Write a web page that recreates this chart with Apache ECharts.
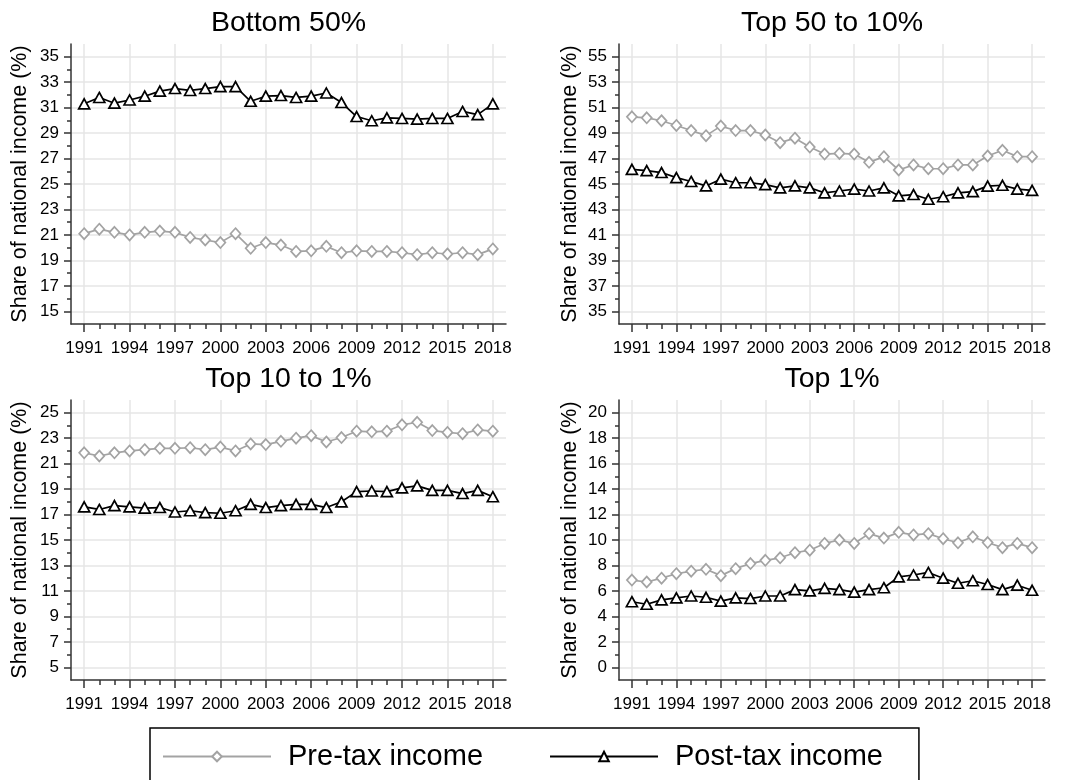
<!DOCTYPE html>
<html>
<head>
<meta charset="UTF-8">
<title>Income shares, pre-tax and post-tax</title>
<style>
  html, body { margin: 0; padding: 0; background: #fff; }
  #chart { width: 1071px; height: 780px; }
</style>
<script src="https://cdn.jsdelivr.net/npm/echarts@6/dist/echarts.min.js"></script>
</head>
<body>
<div id="chart"></div>
<script>
// years and tick positions
const years = [1991, 1992, 1993, 1994, 1995, 1996, 1997, 1998, 1999, 2000,
  2001, 2002, 2003, 2004, 2005, 2006, 2007, 2008, 2009, 2010,
  2011, 2012, 2013, 2014, 2015, 2016, 2017, 2018];
const yearLabels = [1991, 1994, 1997, 2000, 2003, 2006, 2009, 2012, 2015, 2018];

// Bottom 50%
const b50Pre = [21.1, 21.45, 21.2, 21.0, 21.2, 21.3, 21.2, 20.8, 20.6, 20.4,
  21.1, 19.95, 20.4, 20.2, 19.7, 19.75, 20.1, 19.6, 19.75, 19.7,
  19.7, 19.6, 19.45, 19.6, 19.5, 19.6, 19.45, 19.9];
const b50Post = [31.3, 31.8, 31.35, 31.6, 31.9, 32.3, 32.5, 32.35, 32.5, 32.65,
  32.65, 31.5, 31.9, 31.95, 31.8, 31.9, 32.15, 31.4, 30.3, 29.97,
  30.2, 30.15, 30.1, 30.15, 30.15, 30.7, 30.45, 31.3];

// Top 50 to 10%
const t50Pre = [50.28, 50.2, 49.97, 49.6, 49.2, 48.8, 49.55, 49.2, 49.2, 48.85,
  48.25, 48.6, 47.9, 47.35, 47.4, 47.35, 46.7, 47.15, 46.1, 46.5,
  46.2, 46.2, 46.5, 46.5, 47.2, 47.65, 47.15, 47.15];
const t50Post = [46.15, 46.05, 45.9, 45.5, 45.2, 44.85, 45.38, 45.1, 45.1, 44.95,
  44.7, 44.85, 44.7, 44.3, 44.45, 44.6, 44.45, 44.7, 44.07, 44.17,
  43.8, 44.0, 44.3, 44.4, 44.83, 44.9, 44.6, 44.5];

// Top 10 to 1%
const t10Pre = [21.85, 21.6, 21.85, 22.0, 22.1, 22.2, 22.2, 22.25, 22.1, 22.3,
  22.0, 22.55, 22.5, 22.75, 23.0, 23.2, 22.7, 23.05, 23.55, 23.5,
  23.55, 24.05, 24.25, 23.6, 23.45, 23.35, 23.65, 23.55];
const t10Post = [17.6, 17.4, 17.7, 17.6, 17.5, 17.55, 17.2, 17.3, 17.15, 17.1,
  17.3, 17.8, 17.55, 17.7, 17.8, 17.8, 17.55, 18.0, 18.8, 18.85,
  18.8, 19.1, 19.25, 18.9, 18.9, 18.65, 18.9, 18.4];

// Top 1%
const t1Pre = [6.85, 6.7, 7.0, 7.35, 7.55, 7.7, 7.2, 7.75, 8.15, 8.4,
  8.6, 9.0, 9.2, 9.73, 10.0, 9.73, 10.5, 10.15, 10.6, 10.4,
  10.5, 10.1, 9.78, 10.25, 9.8, 9.4, 9.73, 9.4];
const t1Post = [5.15, 4.95, 5.3, 5.45, 5.6, 5.5, 5.2, 5.45, 5.4, 5.6,
  5.6, 6.1, 6.0, 6.2, 6.1, 5.9, 6.1, 6.25, 7.1, 7.25,
  7.45, 7.0, 6.6, 6.8, 6.5, 6.1, 6.45, 6.05];

// y tick labels and minor ticks
const yLabB50 = [15, 17, 19, 21, 23, 25, 27, 29, 31, 33, 35];
const yMinB50 = [16, 18, 20, 22, 24, 26, 28, 30, 32, 34];
const yLabT50 = [35, 37, 39, 41, 43, 45, 47, 49, 51, 53, 55];
const yMinT50 = [36, 38, 40, 42, 44, 46, 48, 50, 52, 54];
const yLabT10 = [5, 7, 9, 11, 13, 15, 17, 19, 21, 23, 25];
const yMinT10 = [6, 8, 10, 12, 14, 16, 18, 20, 22, 24];
const yLabT1 = [0, 2, 4, 6, 8, 10, 12, 14, 16, 18, 20];
const yMinT1 = [1, 3, 5, 7, 9, 11, 13, 15, 17, 19];

const FONT = '"Liberation Sans", Arial, Helvetica, sans-serif';
const GRAY = '#a3a3a3';
const BLACK = '#000000';
const AXIS = '#333333';
const GRID = '#e6e6e6';

const panels = [
  { title: 'Bottom 50%', pre: b50Pre, post: b50Post, yMin: 14, yMax: 36, yLab: yLabB50, yMinor: yMinB50,
    left: 71, top: 44, width: 435, height: 280, nameGap: 40 },
  { title: 'Top 50 to 10%', pre: t50Pre, post: t50Post, yMin: 34, yMax: 56, yLab: yLabT50, yMinor: yMinT50,
    left: 619, top: 44, width: 426, height: 280, nameGap: 37.5 },
  { title: 'Top 10 to 1%', pre: t10Pre, post: t10Post, yMin: 4, yMax: 26, yLab: yLabT10, yMinor: yMinT10,
    left: 71, top: 400, width: 435, height: 280, nameGap: 40 },
  { title: 'Top 1%', pre: t1Pre, post: t1Post, yMin: -1, yMax: 21, yLab: yLabT1, yMinor: yMinT1,
    left: 619, top: 400, width: 426, height: 280, nameGap: 37.5 }
];

const X_MIN = 1990.13, X_MAX = 2018.87;
const axisLine = { show: true, onZero: false, lineStyle: { color: AXIS, width: 1.5 } };
const tickLine = { color: AXIS, width: 1.5 };
const labelStyle = { color: '#000', fontSize: 17, fontFamily: FONT };

const grids = [], xAxes = [], yAxes = [], titles = [], series = [];

panels.forEach((p, i) => {
  grids.push({ left: p.left, top: p.top, width: p.width, height: p.height, outerBoundsMode: 'none' });

  titles.push({
    text: p.title, left: p.left + p.width / 2, top: p.top - 35, textAlign: 'center', padding: 0,
    textStyle: { fontSize: 28.5, fontWeight: 'normal', color: '#000', fontFamily: FONT }
  });

  // main x axis: labels, major ticks, vertical grid lines
  xAxes.push({
    type: 'value', gridIndex: i, min: X_MIN, max: X_MAX, position: 'bottom',
    axisLine: axisLine,
    axisTick: { show: true, customValues: yearLabels, length: 8, lineStyle: tickLine },
    axisLabel: Object.assign({ customValues: yearLabels, margin: 16, formatter: v => String(v) }, labelStyle),
    splitLine: { show: true, lineStyle: { color: GRID, width: 1.5 } }
  });
  // yearly small ticks
  xAxes.push({
    type: 'value', gridIndex: i, min: X_MIN, max: X_MAX, position: 'bottom',
    axisLine: { show: false, onZero: false },
    axisTick: { show: true, customValues: years, length: 5, lineStyle: tickLine },
    axisLabel: { show: false },
    splitLine: { show: false }
  });

  yAxes.push({
    type: 'value', gridIndex: i, min: p.yMin, max: p.yMax, position: 'left',
    name: 'Share of national income (%)', nameLocation: 'middle', nameGap: p.nameGap, nameRotate: 90,
    nameMoveOverlap: false,
    nameTextStyle: { fontSize: 21.5, color: '#000', fontFamily: FONT },
    axisLine: axisLine,
    axisTick: { show: true, customValues: p.yLab, length: 7, lineStyle: tickLine },
    axisLabel: Object.assign({ customValues: p.yLab, margin: 12, formatter: v => String(v) }, labelStyle),
    splitLine: { show: true, lineStyle: { color: GRID, width: 1.5 } }
  });
  yAxes.push({
    type: 'value', gridIndex: i, min: p.yMin, max: p.yMax, position: 'left',
    axisLine: { show: false, onZero: false },
    axisTick: { show: true, customValues: p.yMinor, length: 4, lineStyle: tickLine },
    axisLabel: { show: false },
    splitLine: { show: false }
  });

  series.push({
    name: 'Pre-tax income', type: 'line', xAxisIndex: 2 * i, yAxisIndex: 2 * i,
    data: years.map((y, k) => [y, p.pre[k]]),
    symbol: 'diamond', symbolSize: [10, 11],
    itemStyle: { color: '#fff', borderColor: GRAY, borderWidth: 1.7 },
    lineStyle: { color: GRAY, width: 1.7 }
  });
  series.push({
    name: 'Post-tax income', type: 'line', xAxisIndex: 2 * i, yAxisIndex: 2 * i,
    data: years.map((y, k) => [y, p.post[k]]),
    symbol: 'triangle', symbolSize: [11, 10],
    itemStyle: { color: '#fff', borderColor: BLACK, borderWidth: 1.7 },
    lineStyle: { color: BLACK, width: 1.7 }
  });
});

const chart = echarts.init(document.getElementById('chart'), null, { renderer: 'canvas' });
chart.setOption({
  animation: false,
  backgroundColor: '#fff',
  title: titles,
  grid: grids,
  xAxis: xAxes,
  yAxis: yAxes,
  legend: {
    data: ['Pre-tax income', 'Post-tax income'],
    left: 150, top: 728, orient: 'horizontal',
    itemWidth: 108, itemHeight: 12, itemGap: 66,
    padding: [14, 36, 40, 12],
    borderColor: '#000', borderWidth: 1.5, borderRadius: 0,
    textStyle: { fontSize: 29, color: '#000', fontFamily: FONT, padding: [0, 0, 0, 12] }
  },
  series: series
});
</script>
</body>
</html>
